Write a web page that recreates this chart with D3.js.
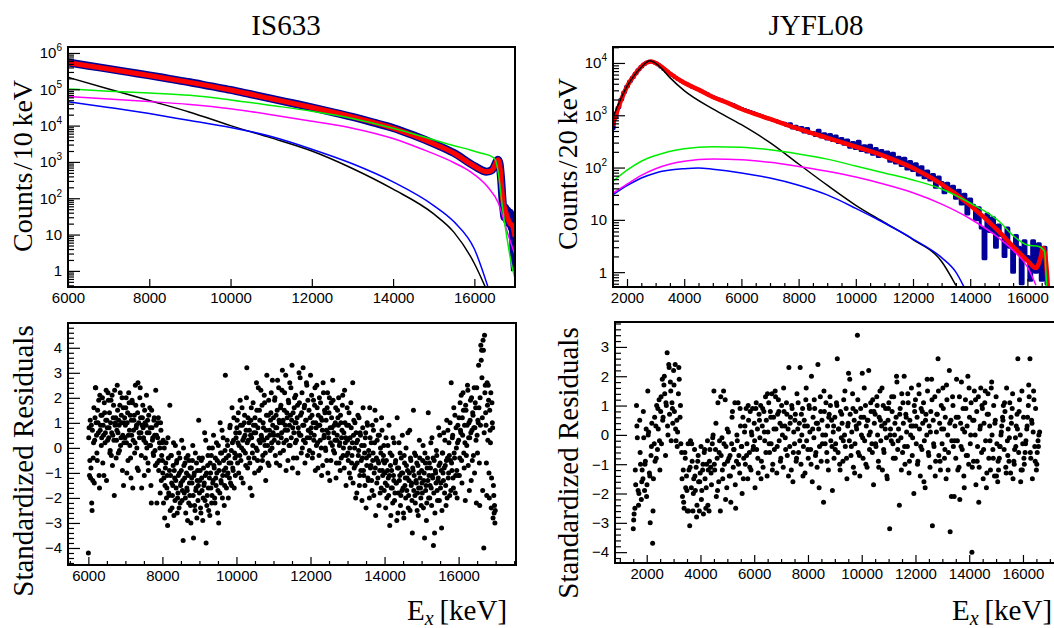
<!DOCTYPE html>
<html>
<head>
<meta charset="utf-8">
<script src="https://cdn.jsdelivr.net/npm/d3@7"></script>
<style>
  body { margin: 0; background: #fff; }
  svg { display: block; }
  .tick text { font-family: "Liberation Sans", Arial, sans-serif; font-size: 15px; fill: #000; }
  .tick line { stroke: #000; stroke-width: 1.2; }
</style>
</head>
<body>
<svg id="chart" width="1054" height="628"></svg>
<script>
// ---------- IS633 (10 keV bins) ----------
var isDataE = [6000,6500,7000,7500,8000,8500,9000,9500,10000,10500,11000,11500,12000,12500,13000,13500,14000,14500,15000,15500,16000,
  16300,16400,16480,16540,16580,16620,16660,16700,16720,16740,16760,16780,16800,16820,16840,16860,16880,16900,16920,16940,16960,16980,17000];
var isData = [550000,445000,365000,296000,242000,194000,156000,122000,96000,73000,55500,42000,31800,23600,17300,12300,8600,5400,3200,1750,770,
  540,570,700,1000,1150,900,320,70,45,30,55,40,25,45,30,20,40,28,15,22,5,2,1];

var isFitE = [6000,7000,8000,9000,10000,11000,12000,13000,14000,15000,15500,16000,16300,16400,16480,16540,16580,16620,16660,16700,16760,16820,16880,16930,16970,17000];
var isFit = [537000,363000,240000,155000,95500,55000,31600,17400,8500,3160,1740,760,540,560,700,1000,1150,900,300,90,47,28,20,18,13,8.7];

var isGreenE = [6000,7000,8000,9000,10000,11000,12000,13000,14000,15000,15500,15900,16200,16440,16520,16590,16690,16810,16930,17000];
var isGreen = [102000,89000,79000,68000,51000,36000,25000,15800,8500,4070,2800,2140,1700,1380,1120,490,58,7.1,1.26,0.63];

var isMagE = [6000,7000,8000,9000,10000,11000,12000,13000,14000,14670,15500,15900,16320,16590,16810,17000];
var isMag = [63000,54000,46000,38000,29000,20000,13200,8500,4400,2340,950,540,210,74,11.7,2.75];

var isBlackE = [6000,7000,8000,9000,10000,11000,12000,13000,14000,15000,15500,16000,16300];
var isBlack = [214000,102000,49000,23400,10000,4600,2000,660,178,37,11.5,1.6,0.3];

var isBlueE = [6000,7000,8000,9000,10000,11000,12000,13000,14000,15000,15500,16000,16350];
var isBlue = [45700,31600,21400,13800,8900,5000,2240,890,282,63,22.4,4,0.32];

// standardized residuals at 6000, 6020, ... keV
var isResidA = [
-4.2,0.8,-0.5,-1.2,0.9,-2.5,-1.3,0.2,-1.4,1.2, 2.4,0.5,-0.5,1.0,1.9,-1.6,0.7,1.3,0.4,2.0, 0.9,-1.1,1.4,0.6,2.3,1.1,0.3,1.9,0.8,-0.2, 1.0,-0.3,2.1,0.5,1.7,-1.9,0.9,1.2,0.3,2.5, 0.6,1.1,-0.1,2.2,0.4,1.0,-0.9,1.6,0.2,1.2,
0.9,2.0,-1.0,1.4,0.5,1.8,0.1,-0.4,1.1,1.9, -1.6,0.7,1.3,0.2,1.7,0.9,-0.8,2.6,1.0,0.4, 2.4,0.6,-1.6,1.2,0.8,0.3,1.5,-0.4,0.9,0.0, 1.1,-0.9,0.6,1.6,0.1,-2.2,0.8,0.4,-0.3,1.2, -0.1,2.3,0.5,-0.6,1.0,-0.9,0.2,-1.8,0.7,-0.3,
-0.5,0.3,-1.2,-2.8,-0.8,0.2,-1.6,-3.1,-0.4,-1.9, 1.7,-1.1,-0.3,-2.4,-1.5,0.2,-0.9,-2.1,-1.3,-0.6, -2.6,-1.8,-0.2,-1.0,-2.2,-1.4,0.3,-1.7,-3.7,-0.7, -1.2,-2.0,-0.4,-1.6,-2.9,-1.1,-0.5,-1.9,-2.3,-0.8, -1.4,0.1,-3.6,-1.0,-2.5,-1.7,-0.6,-1.3,-2.1,1.1,
-1.8,-0.9,-2.6,-1.2,-0.4,-2.0,-1.5,0.6,-1.1,-3.8, -2.3,-0.7,-1.6,0.0,-2.7,-1.0,-0.3,-1.9,-1.4,0.5, -0.8,-2.2,-1.2,0.2,-0.5,-1.7,-3.0,-0.6,1.0,-1.3, -0.2,-2.0,0.4,-0.9,-1.5,2.9,-0.4,-1.1,0.1,-2.0, -0.6,0.8,-1.4,-0.1,1.6,-0.8,0.3,-1.6,-0.4,0.6,
-0.3,1.1,0.2,-1.0,0.6,1.9,-0.5,0.0,0.9,-1.4, 0.4,1.3,-0.2,0.7,3.2,-0.8,0.3,1.0,-0.6,0.5, 1.6,-1.9,0.1,0.9,-0.4,1.2,0.6,2.6,-0.1,0.8, -0.9,1.5,0.2,2.3,0.4,-0.5,1.0,0.3,1.8,-0.2, 0.7,2.9,0.1,1.3,-0.7,0.5,1.1,2.2,0.0,0.9,
1.2,0.3,2.0,0.8,-0.6,1.5,0.5,2.4,1.0,-0.2, 1.7,0.6,3.1,1.1,0.2,2.2,0.9,-0.9,1.4,0.7, 1.9,0.1,2.6,1.3,0.4,3.3,0.8,-0.4,1.6,1.0, 2.1,0.3,1.2,-1.0,0.6,1.8,2.8,0.5,1.4,0.0, 3.2,0.9,1.7,0.2,1.1,2.5,-0.3,0.7,1.5,0.4,
2.9,0.8,1.3,-0.2,1.9,0.5,2.4,1.0,0.1,1.6, -0.8,0.9,2.0,0.3,1.2,-1.1,0.7,2.6,0.4,1.5, 0.0,1.1,-0.5,2.2,0.6,1.4,-1.3,0.2,1.8,0.8, 2.7,-0.1,0.9,0.3,1.6,-0.6,0.5,1.2,2.0,0.1, -0.9,1.0,0.4,1.7,-0.3,0.6,2.3,0.2,-1.5,0.9,
0.3,-0.5,1.4,0.0,-1.2,0.8,-0.3,2.6,0.5,-0.8, 1.0,-2.0,0.2,-0.6,1.3,-0.1,-1.5,0.6,-0.9,0.1, -0.4,1.6,-1.1,-0.2,0.4,-2.4,-0.7,0.9,-1.3,-0.3, 1.6,-0.8,0.2,-1.7,-0.5,0.7,-1.0,1.5,-2.7,-0.4, 0.3,-1.2,-0.6,0.5,-1.8,-0.2,1.2,-0.9,-0.5,0.1,
-0.6,-1.4,0.4,-2.0,-0.9,-1.2,0.9,-3.1,-0.7,-1.6, -0.3,-2.2,-1.1,0.2,-1.8,-0.5,-1.4,1.2,-2.6,-0.8, -1.3,-0.2,-1.9,-1.0,0.5,-1.6,-2.8,-0.6,-1.2,0.0, -1.7,-0.9,-2.4,-1.3,0.7,-0.4,-1.5,-2.1,-0.8,1.5, -1.1,-1.9,-0.3,-1.4,-2.5,-0.7,-1.6,0.3,-1.2,-2.0,
-0.9,-1.8,0.1,-1.3,-3.6,-0.6,-1.5,-2.2,-0.4,1.4, -1.1,-2.0,-0.8,-1.6,0.4,-1.2,-3.9,-0.5,-2.6,-1.0, -0.1,-1.7,-1.3,0.8,-2.1,-0.6,-1.4,-3.2,-0.2,-1.0, 0.6,-1.8,-0.7,-2.3,1.1,-0.4,-1.2,0.2,-1.9,-0.5, 2.6,-0.9,0.5,-1.6,-0.2,1.3,-1.1,0.0,-2.0,0.9,
0.3,-1.1,1.8,0.6,-0.5,1.2,2.2,-0.2,0.9,-2.1, 1.5,0.1,2.5,-0.7,1.0,0.4,1.9,-1.3,0.7,1.4, -0.3,2.4,0.8,1.6,-2.2,0.5,1.1,3.3,-0.6,2.0, 4.1,3.9,1.2,4.3,-4.0,4.5,2.5,0.9,-1.9,1.7, 2.5,-1.0,1.5,0.2,-2.4,1.8,0.8,-1.5,-2.6,-3.0
];
// standardized residuals at 6010, 6030, ... keV
var isResidB = [
0.4,-1.1,1.1,-0.8,-2.2,0.7,-0.4,1.6,0.3,2.4, 1.0,-0.2,1.5,0.6,-1.1,2.1,0.9,0.1,1.3,-0.6, 0.5,1.8,0.2,1.1,-1.3,0.8,2.2,0.4,1.4,-0.1, 1.9,0.6,-0.7,1.2,0.3,2.3,1.0,-0.4,0.7,1.5, -0.2,0.9,1.7,0.1,1.3,2.0,0.5,-1.5,1.0,0.4,
1.6,0.2,1.0,-0.5,2.2,0.7,1.3,-1.2,0.5,1.8, 0.3,1.1,-0.2,2.5,0.8,0.0,1.4,-0.9,0.6,2.0, 1.2,-0.3,0.9,1.7,0.4,-1.1,1.0,0.2,2.1,0.6, -0.6,1.3,0.1,0.8,-1.5,1.5,0.3,-0.2,1.1,0.5, -0.7,0.9,-2.2,0.4,1.2,-0.5,0.0,1.0,-1.3,0.2,
-1.0,-2.2,0.0,-1.5,-0.6,-2.0,-1.1,0.4,-1.8,-0.9, -2.5,-0.3,-1.4,-1.9,-0.7,-2.7,-1.2,0.1,-1.6,-0.5, -2.0,-1.1,-2.4,-0.4,-1.5,-0.9,-2.1,-1.3,0.0,-1.8, -0.6,-2.6,-1.0,-1.7,-0.3,-2.2,-1.4,-0.8,-3.0,-1.2, -0.5,-1.9,-1.1,-2.3,-0.2,-1.6,-2.8,-0.9,-1.5,-0.4,
-1.3,-2.4,-0.5,-1.7,-2.9,-0.8,-1.4,-2.1,0.3,-1.0, -1.9,-0.3,-2.5,-1.2,-0.6,-1.6,-2.2,0.0,-1.3,-0.7, -2.0,-0.4,-1.5,-1.0,-2.6,0.1,-0.9,-1.8,-0.2,-1.4, 0.7,-1.1,-0.5,-2.3,-0.1,-0.8,-1.6,0.3,-1.0,-0.3, -1.2,0.9,-0.6,-1.5,0.2,-0.9,1.2,-0.2,-1.1,0.4,
0.8,-0.6,1.4,0.1,-0.3,0.9,-1.2,1.6,0.3,-0.1, 1.0,0.5,-0.7,2.0,0.2,1.2,-0.4,0.7,-1.6,1.1, 0.4,-0.2,1.8,0.6,-1.0,0.9,0.0,1.5,-0.5,2.4, 0.3,1.1,-0.8,0.5,1.7,-0.3,0.8,2.1,0.1,-1.3, 1.3,0.4,-0.6,1.9,0.7,-0.1,1.4,0.2,2.7,0.6,
0.5,1.9,-0.3,1.3,0.8,2.7,0.2,1.1,-0.7,1.6, 0.4,2.3,1.0,-0.1,1.5,0.7,2.9,0.3,1.2,-0.5, 1.8,0.9,0.1,2.4,1.1,-0.8,1.4,0.6,2.0,0.2, 1.0,-0.4,1.7,0.8,3.0,0.5,1.3,-0.2,2.2,0.9, 0.3,1.6,-0.6,1.1,2.6,0.4,1.9,0.7,-0.1,1.2,
0.6,2.1,-0.4,1.0,0.3,1.7,-0.9,0.8,2.5,0.2, 1.3,-0.3,0.9,1.8,0.0,1.1,-0.7,2.2,0.5,1.4, -0.1,0.7,1.6,-1.0,0.4,2.0,0.8,-0.5,1.2,0.1, 1.9,0.6,-0.2,1.0,-1.2,0.3,1.5,0.9,-0.6,0.2, 1.3,-0.4,0.7,2.1,0.0,-0.8,1.0,0.4,-0.3,1.6,
-0.2,0.9,-1.0,0.4,1.8,-0.6,0.2,-1.4,1.1,0.0, -0.7,0.6,-1.8,0.3,-0.3,1.2,-1.1,0.5,-0.5,-2.1, 0.8,-0.9,0.1,-1.5,0.6,-0.4,1.0,-1.2,-0.1,-2.0, 0.4,-0.7,-1.3,0.9,-0.2,-1.9,0.2,-0.8,1.1,-1.4, -0.5,0.5,-2.3,-0.9,0.0,-1.6,0.7,-1.1,-0.3,-1.7,
-1.0,-2.4,-0.5,-1.5,0.1,-1.9,-1.1,-0.2,-2.7,-0.9, -1.6,0.4,-1.3,-2.1,-0.6,-1.4,-2.9,-0.8,-1.8,0.2, -1.1,-2.3,-0.4,-1.7,-1.0,-2.6,-0.3,-1.5,-2.0,-0.7, -1.2,0.6,-1.9,-1.0,-2.5,-0.5,-1.4,-3.4,-0.9,-1.7, -0.2,-2.2,-1.3,-0.6,-1.8,-2.7,-1.0,-0.4,-1.6,-2.3,
-1.4,-0.5,-2.4,-1.0,-0.2,-1.7,-2.9,-0.8,-1.3,-2.0, -0.6,-1.5,0.2,-2.3,-1.1,-0.4,-1.8,-3.4,-0.9,-1.4, -0.3,-2.1,-1.2,-0.7,0.5,-1.6,-0.9,-2.5,-0.2,-1.3, -0.8,0.3,-1.5,-0.5,-2.0,0.7,-1.0,-0.3,1.0,-1.7, -0.6,0.4,-1.2,1.6,-0.4,-1.8,0.8,-0.9,0.2,-1.1,
1.2,-0.4,0.7,2.1,-1.4,0.5,1.5,-0.8,0.2,1.7, -0.3,0.9,2.3,0.4,-1.7,1.1,0.6,2.0,-0.5,1.3, 0.8,-1.0,1.8,0.3,2.4,-0.2,1.0,1.6,-2.3,0.9, 3.5,2.8,-1.7,3.9,0.6,2.2,1.4,-0.6,2.6,0.3, 1.9,-2.0,0.7,2.2,-1.2,1.0,-2.8,-1.9,-2.3,-2.5
];

// ---------- JYFL08 (20 keV bins) ----------
// data shown per 100 keV from 1500 keV
var jyData = [560,900,1400,2000,2750,3550,4400,5300,6300,7400,
  8500,9500,10300,10800,10600,10000,9200,8400,7600,6900,
  6300,5800,5300,4900,4500,4200,3950,3700,3450,3250,
  3100,2920,2750,2580,2400,2250,2150,2050,1950,1830,
  1750,1680,1600,1500,1420,1340,1290,1230,1180,1130,
  1070,1020,980,930,890,850,810,790,740,720,
  700,640,690,570,615,535,585,480,560,455,
  470,410,515,385,445,350,430,330,400,300,
  360,280,335,245,300,232,318,212,262,198,
  268,180,232,162,212,168,198,132,188,122,
  158,110,150,94,130,88,118,72,104,64,
  86,58,74,42,66,52,33,50,36,44,
  26,37,20,31,13,25,19,10,17,7,
  1.8,13,6,11,3,8,5,2,7,3,
  1,5,3,0.6,4,2,0.7,4,1,3.5,
  0.7,3,0.6];

var jyFitE = [1500,1800,2000,2300,2600,2850,3100,3500,4000,4500,5000,5500,6000,7000,8000,9000,10000,11000,12000,13000,14000,15000,15500,16000,16300,16450,16550,16620,16680,16730];
var jyFit = [650,2000,3550,6300,9550,10700,9300,6300,4170,3090,2240,1740,1320,850,550,370,250,166,98,48,19,6,3.1,1.66,1.2,1.8,2.9,2.2,1.0,0.4];

var jyBlackE = [1500,2000,2500,2800,3100,3500,4000,5000,6000,7000,8000,9000,10000,11000,12000,13000,13500];
var jyBlack = [890,3550,8300,11000,8900,5250,2950,1320,660,300,117,46,19,8.9,4.2,1.6,0.56];

var jyBlueE = [1500,2000,2500,3000,4000,4500,5000,6000,7000,8000,9000,10000,11000,12000,13000,13500,13800];
var jyBlue = [30,45,63,79,95,98,93,79,63,46,30,16.6,8.7,4.3,1.9,1.0,0.5];

var jyMagE = [1500,2000,2500,3000,4000,5000,6000,7000,8000,9000,10000,11000,12000,13000,14000,15000,15500,16000,16300];
var jyMag = [32,48,71,95,132,145,141,126,105,85,66,48,33,20,10.5,4.5,2.6,1.26,0.56];

var jyGreenE = [1500,2000,2500,3000,4000,5000,6000,7000,8000,9000,10000,11000,12000,13000,14000,15000,15500,16000,16400,16600,16650,16680];
var jyGreen = [54,89,132,170,229,251,245,219,182,145,107,79,58,39,21,9.5,5,3.3,3.1,2.5,1,0.5];

// standardized residuals at 1500, 1530, ... keV
var jyResidA = [
-3.2,-2.7,-2.5,-1.7,1.0,-0.1,-1.9,-2.0,0.5,-1.0, -2.2,-1.2,-1.5,-0.1,-1.9,-0.9,0.2,-1.7,1.5,0.1, -1.3,-3.0,-0.7,0.4,-3.7,-1.5,-0.3,-0.9,0.3,1.0, -0.5,0.2,1.2,-1.2,0.8,-0.3,1.9,0.6,1.7,1.4, -0.7,1.0,2.8,0.0,2.4,0.7,1.8,-0.2,1.1,0.4,
2.2,0.8,2.4,-0.2,0.5,0.1,1.4,1.9,0.6,-0.3, -0.6,-2.1,-1.2,-2.5,-0.6,-1.8,-1.4,-2.6,-0.3,-1.2, -3.1,-0.2,-1.8,-0.9,-2.6,-1.5,-0.5,-1.9,-1.1,-2.4, -0.9,-1.6,-2.6,-1.3,-0.4,-1.9,-1.2,-2.7,-0.6,-1.5, -2.5,-1.0,-0.2,-1.2,-2.6,-0.5,-1.1,-1.7,-0.3,0.0,
1.5,-1.2,-0.5,-2.1,-0.8,1.1,-1.6,-0.2,-2.6,-0.7, -0.1,-1.5,1.5,-1.0,1.2,-0.4,-1.8,-0.9,0.1,-1.4, -0.7,-2.3,-0.3,0.8,-1.1,-0.5,1.1,-2.5,-0.9,-0.2, 1.1,-0.7,-1.3,0.3,-0.4,-2.0,0.6,-0.8,0.1,-1.0, 0.9,-0.3,-1.5,0.5,-0.6,0.8,-1.2,0.0,0.9,-0.4,
0.4,-1.8,0.9,-0.5,0.2,-1.3,0.7,-0.1,1.0,-0.9, 0.3,-1.1,0.8,-0.2,1.3,0.5,-1.4,0.1,1.1,-0.6, 0.8,-0.3,1.4,-1.0,0.6,-0.5,1.5,0.2,-1.3,0.7, 1.2,-0.2,0.4,-0.8,1.0,0.0,-1.1,0.8,0.3,-0.5, 1.1,-0.7,0.2,2.3,-0.4,0.6,-1.2,0.9,-1.6,0.1,
-0.3,0.7,-0.9,1.4,0.2,-0.6,0.4,2.3,-1.0,0.0, 0.9,-0.4,0.5,-1.3,1.2,-0.2,0.3,-0.8,1.0,0.1, -0.5,2.0,-1.6,0.6,-0.1,0.9,-0.7,0.4,-1.1,2.4, 0.2,-0.4,1.3,-0.9,0.5,0.0,-2.3,0.8,-0.3,1.1, -0.6,0.3,-1.2,0.7,1.3,-0.2,0.5,-1.9,0.1,-0.8,
0.6,-0.3,1.1,2.6,-0.6,0.2,-1.0,0.8,-0.1,0.4, -0.9,1.2,0.0,-0.4,0.9,-1.5,0.3,2.1,-0.2,0.7, -0.7,0.1,1.4,-1.1,0.5,-0.3,0.8,0.2,3.4,-0.6, 0.4,-1.4,0.9,0.0,2.1,-0.8,0.6,-0.2,1.0,0.3, -1.1,0.5,2.2,-0.5,0.1,0.8,-0.3,1.2,-1.7,0.4,
0.7,-0.4,1.3,0.0,-0.9,0.6,1.5,-0.2,0.3,-1.2, 1.0,-0.6,0.4,0.9,-0.1,-1.5,0.5,1.1,-3.2,0.2, -0.2,0.8,-0.3,1.3,0.0,-0.8,0.6,1.8,-0.5,0.2, -2.4,0.9,-0.1,1.4,-0.6,0.4,2.0,-1.0,0.7,0.1, -0.4,1.1,-1.3,0.5,0.0,1.6,-0.7,0.3,-2.0,0.8,
1.2,-0.3,0.6,-0.9,1.7,0.2,-1.4,0.9,-0.5,0.4, 1.1,-0.2,-1.8,0.7,0.0,1.5,-0.6,0.3,-1.1,0.8, 1.9,-3.1,0.5,-0.4,1.3,-0.9,0.1,0.7,2.6,-0.7, 0.4,-1.2,1.0,-0.3,1.6,0.2,-0.8,0.6,-1.5,1.2, 0.0,-0.6,2.2,-3.3,0.5,-0.2,1.3,-0.4,-2.1,0.3,
-0.8,1.9,-0.2,0.6,-1.1,-2.2,0.4,1.8,-0.5,0.9, -1.4,0.1,1.2,-0.7,0.3,2.0,-1.0,0.6,-0.3,1.1, -4.0,0.5,-0.9,1.5,0.0,-1.7,0.8,-0.4,1.3,-1.1, 0.2,1.6,-0.6,0.9,-1.5,0.4,1.1,-0.2,-1.8,0.7, 1.4,-0.8,0.3,-1.2,1.6,0.0,-0.5,1.0,-1.4,0.5,
1.3,-0.3,-1.6,-1.2,-0.8,-0.4,0.0,0.3,0.6,1.0, -0.5,0.8,-1.1,1.6,-0.2,0.2,-0.9,1.1,-1.3,0.4, 0.9,-1.5,-0.9,-0.5,-0.1,0.3,0.7,2.6,-0.6,1.2, 0.0,-1.2,1.5,-0.3,0.6,-1.0,-0.6,-0.2,0.2,0.6, 1.0,1.3,2.6,-0.8,0.5,-1.5,0.1,1.2,-0.4,0.9,
-1.2,-0.6,-0.2,0.0,0.1
];
// standardized residuals at 1515, 1575, ... keV
var jyResidB = [
-2.9,-1.2,0.3,-2.4,-0.6,-1.6,0.8,-1.0,-2.1,0.0, -1.4,-0.4,-2.6,0.6,-0.8,0.9,-0.2,1.3,0.5,2.0, 1.1,0.3,2.3,1.5,0.9,
1.7,0.2,-0.4,2.3,1.0,-1.5,-2.3,-0.8,-1.9,-2.6, -1.1,-0.3,-2.0,-1.4,-2.8,-0.7,-1.6,-2.2,-1.0,-0.5, -1.8,-2.4,-0.9,-1.3,-0.1,
-1.0,0.4,-1.9,-0.6,1.3,-1.2,-0.3,-2.2,0.2,-0.8, -1.4,0.6,-0.5,-1.7,0.0,-1.0,0.9,-0.4,-1.5,0.3, -0.7,1.0,-1.1,0.1,-0.5,
-0.2,1.1,-0.8,0.5,-1.5,0.9,0.1,-0.6,1.4,-0.3, 0.6,-1.2,0.2,1.3,-0.4,0.8,-0.9,0.3,1.6,-0.1, 0.7,-1.4,0.4,1.0,-0.6,
0.5,-0.8,1.1,-0.2,0.7,-1.4,0.3,1.6,-0.5,0.9, -1.0,0.2,1.2,-0.6,0.4,-1.8,0.8,-0.3,1.5,0.0, -0.9,0.6,1.0,-0.4,0.3,
-0.5,1.0,0.2,-1.2,0.7,-0.2,1.5,-0.8,0.4,1.9, -0.4,0.9,-1.3,0.3,1.2,-0.7,0.6,-0.1,1.6,-1.0, 0.5,0.0,1.1,-0.6,0.8,
-0.3,1.0,-1.1,0.5,1.6,-0.5,0.2,-1.4,0.9,0.0, 1.3,-0.8,0.4,2.0,-0.2,0.7,-1.2,1.1,-0.4,0.6, 1.4,-0.9,0.3,-0.1,1.0,
0.3,-1.0,1.4,-0.4,0.8,-1.6,0.5,1.9,-0.7,0.1, 1.2,-0.3,-1.4,0.7,1.5,-0.9,0.2,0.9,-0.5,1.7, -1.2,0.4,-2.1,1.0,-0.2,
0.6,-1.2,1.3,-0.4,0.2,-1.8,0.9,-0.7,1.6,0.0, -1.1,0.5,1.2,-0.9,-2.3,0.3,1.0,-0.5,1.5,-1.3, 0.7,-0.2,1.8,-0.8,0.4,
-1.4,-0.9,-0.4,0.1,0.5,1.1,-1.3,-0.7,-0.1,0.6, 1.4,-1.0,-0.4,0.2,0.8,-1.6,-1.2,-0.8,-0.3,0.3, 1.7,-0.6,0.4,1.5,-0.9,
-1.0,-0.4
];

// ---------- ticks ----------
var isXTicks = [6000,8000,10000,12000,14000,16000];
var jyXTicks = [2000,4000,6000,8000,10000,12000,14000,16000];
var isDecades = [0,1,2,3,4,5,6];
var jyDecades = [0,1,2,3,4];
var isResTicks = [-4,-3,-2,-1,0,1,2,3,4];
var jyResTicks = [-4,-3,-2,-1,0,1,2,3];

var svg = d3.select('#chart');
var serif = '"Liberation Serif","Times New Roman",serif';
var sans = '"Liberation Sans",Arial,sans-serif';
svg.append('rect').attr('width', 1054).attr('height', 628).attr('fill', '#fff');
var defs = svg.append('defs');

function clipFor(id, x0, y0, x1, y1) {
  defs.append('clipPath').attr('id', id).append('rect')
      .attr('x', x0).attr('y', y0).attr('width', x1 - x0).attr('height', y1 - y0);
  return 'url(#' + id + ')';
}

function drawLine(g, x, y, E, V, color, w, curve) {
  var line = d3.line()
      .x(function(d, i) { return x(E[i]); })
      .y(function(d) { return y(d); })
      .curve(curve || d3.curveMonotoneX);
  g.append('path').datum(V).attr('d', line)
   .attr('fill', 'none').attr('stroke', color).attr('stroke-width', w)
   .attr('stroke-linejoin', 'round');
}

function xAxes(g, x, p) {
  var a = g.append('g').attr('transform', 'translate(0,' + p.bottom + ')');
  a.call(d3.axisBottom(x).tickValues(p.xMajor).tickSize(-8).tickPadding(p.xPad).tickFormat(d3.format('d')));
  if (p.xMinor) {
    a.append('g').call(d3.axisBottom(x).tickValues(p.xMinor).tickSize(-4).tickFormat(''));
  }
  a.selectAll('.domain').remove();
}

function frame(g, p) {
  g.append('rect').attr('x', p.left).attr('y', p.top)
   .attr('width', p.right - p.left).attr('height', p.bottom - p.top)
   .attr('fill', 'none').attr('stroke', '#000').attr('stroke-width', 2);
}

function spectrumPanel(p) {
  var x = d3.scaleLinear().domain(p.xDom).range([p.left, p.right]);
  var y = d3.scaleLog().domain(p.yDom).range([p.bottom, p.top]);
  var g = svg.append('g');
  var plot = g.append('g').attr('clip-path', clipFor(p.id, p.left, p.top, p.right, p.bottom));
  p.curves.forEach(function(c) { drawLine(plot, x, y, c.E, c.V, c.color, c.w, c.curve); });

  xAxes(g, x, p);

  var minor = [];
  for (var d = -1; d <= p.decades[p.decades.length - 1]; d++) {
    for (var k = 2; k <= 9; k++) {
      var v = k * Math.pow(10, d);
      if (v > p.yDom[0] && v < p.yDom[1]) minor.push(v);
    }
  }
  var major = p.decades.map(function(d) { return Math.pow(10, d); });
  var ay = g.append('g').attr('transform', 'translate(' + p.left + ',0)');
  ay.call(d3.axisLeft(y).tickValues(major).tickSize(-12).tickFormat(''));
  ay.append('g').call(d3.axisLeft(y).tickValues(minor).tickSize(-6).tickFormat(''));
  ay.selectAll('.domain').remove();

  p.decades.forEach(function(d) {
    var t = g.append('text').attr('x', p.left - 6).attr('y', y(Math.pow(10, d)))
      .attr('dy', '0.36em').attr('text-anchor', 'end')
      .style('font-family', sans).style('font-size', '15px');
    if (d < 2) t.text(d === 0 ? '1' : '10');
    else {
      t.append('tspan').text('10');
      t.append('tspan').attr('dy', -7).style('font-size', '10px').text(d);
    }
  });
  frame(g, p);
}

function residualPanel(p) {
  var x = d3.scaleLinear().domain(p.xDom).range([p.left, p.right]);
  var y = d3.scaleLinear().domain(p.yDom).range([p.bottom, p.top]);
  var g = svg.append('g');
  var plot = g.append('g').attr('clip-path', clipFor(p.id, p.left, p.top, p.right, p.bottom));
  p.sets.forEach(function(s) {
    plot.append('g').selectAll('circle').data(s.V).join('circle')
      .attr('cx', function(d, i) { return x(s.E[i]); })
      .attr('cy', function(d) { return y(d); })
      .attr('r', 2.5).attr('fill', '#000');
  });

  xAxes(g, x, p);

  var minor = [];
  for (var v = Math.ceil(p.yDom[0] * 5); v <= Math.floor(p.yDom[1] * 5); v++) {
    if (v % 5 !== 0) minor.push(v / 5);
  }
  var ay = g.append('g').attr('transform', 'translate(' + p.left + ',0)');
  ay.call(d3.axisLeft(y).tickValues(p.yMajor).tickSize(-12).tickPadding(6)
    .tickFormat(function(d) { return d < 0 ? '\u2212' + (-d) : d; }));
  ay.append('g').call(d3.axisLeft(y).tickValues(minor).tickSize(-6).tickFormat(''));
  ay.selectAll('.domain').remove();
  frame(g, p);
}

var dataCol = '#000099';

spectrumPanel({
  id: 'cTL', left: 68, right: 515, top: 47, bottom: 287,
  xDom: [6000, 17000], yDom: [0.36, 1.46e6],
  xMajor: isXTicks, xPad: 5, decades: isDecades,
  curves: [
    { E: isDataE, V: isData, color: dataCol, w: 8 },
    { E: isFitE, V: isFit, color: '#ff0000', w: 5 },
    { E: isBlackE, V: isBlack, color: '#000', w: 1.5 },
    { E: isBlueE, V: isBlue, color: '#0000ff', w: 1.5 },
    { E: isMagE, V: isMag, color: '#ff00ff', w: 1.5 },
    { E: isGreenE, V: isGreen, color: '#00ee00', w: 1.5 }
  ]
});

spectrumPanel({
  id: 'cTR', left: 613, right: 1056, top: 47, bottom: 287,
  xDom: [1510, 17000], yDom: [0.52, 2.02e4],
  xMajor: jyXTicks, xMinor: d3.range(1500, 17001, 500).filter(function(v) { return v % 2000; }),
  xPad: 5, decades: jyDecades,
  curves: [
    { E: d3.range(1500, 16701, 100), V: jyData, color: dataCol, w: 3, curve: d3.curveStep },
    { E: jyFitE, V: jyFit, color: '#ff0000', w: 4.5 },
    { E: jyBlackE, V: jyBlack, color: '#000', w: 1.5 },
    { E: jyBlueE, V: jyBlue, color: '#0000ff', w: 1.5 },
    { E: jyMagE, V: jyMag, color: '#ff00ff', w: 1.5 },
    { E: jyGreenE, V: jyGreen, color: '#00ee00', w: 1.5 }
  ]
});

residualPanel({
  id: 'cBL', left: 68, right: 516, top: 323, bottom: 565,
  xDom: [5450, 17550], yDom: [-4.68, 4.99],
  xMajor: isXTicks, xMinor: d3.range(5500, 17550, 500).filter(function(v) { return v % 2000; }),
  xPad: 5, yMajor: isResTicks,
  sets: [ { E: d3.range(6000, 16981, 20), V: isResidA },
          { E: d3.range(6010, 16991, 20), V: isResidB } ]
});

residualPanel({
  id: 'cBR', left: 615, right: 1070, top: 322, bottom: 563,
  xDom: [820, 17750], yDom: [-4.37, 3.85],
  xMajor: jyXTicks, xMinor: d3.range(1000, 17750, 500).filter(function(v) { return v % 2000; }),
  xPad: 5, yMajor: jyResTicks,
  sets: [ { E: d3.range(1500, 16621, 30), V: jyResidA },
          { E: d3.range(1515, 16621, 60), V: jyResidB } ]
});

// titles
function serifText(x, y, s, size, rot) {
  var t = svg.append('text').attr('text-anchor', 'middle')
    .style('font-family', serif).style('font-size', size + 'px').text(s);
  if (rot) t.attr('transform', 'translate(' + x + ',' + y + ') rotate(-90)');
  else t.attr('x', x).attr('y', y);
  return t;
}
serifText(286, 35, 'IS633', 29);
serifText(816, 35, 'JYFL08', 29);
serifText(32, 166, 'Counts\u200a/\u200a10\u2009keV', 28, true);
serifText(577, 164, 'Counts\u200a/\u200a20\u2009keV', 28, true);
serifText(33, 461, 'Standardized Residuals', 29, true);
serifText(578, 463, 'Standardized Residuals', 29, true);

function exLabel(x0) {
  var t = svg.append('text').attr('x', x0).attr('y', 620)
    .style('font-family', serif).style('font-size', '29px');
  t.append('tspan').text('E');
  t.append('tspan').attr('dy', 5).style('font-size', '20px').style('font-style', 'italic').text('x');
  t.append('tspan').attr('dy', -5).text('\u2009[keV]');
}
exLabel(407);
exLabel(952);
</script>
</body>
</html>
